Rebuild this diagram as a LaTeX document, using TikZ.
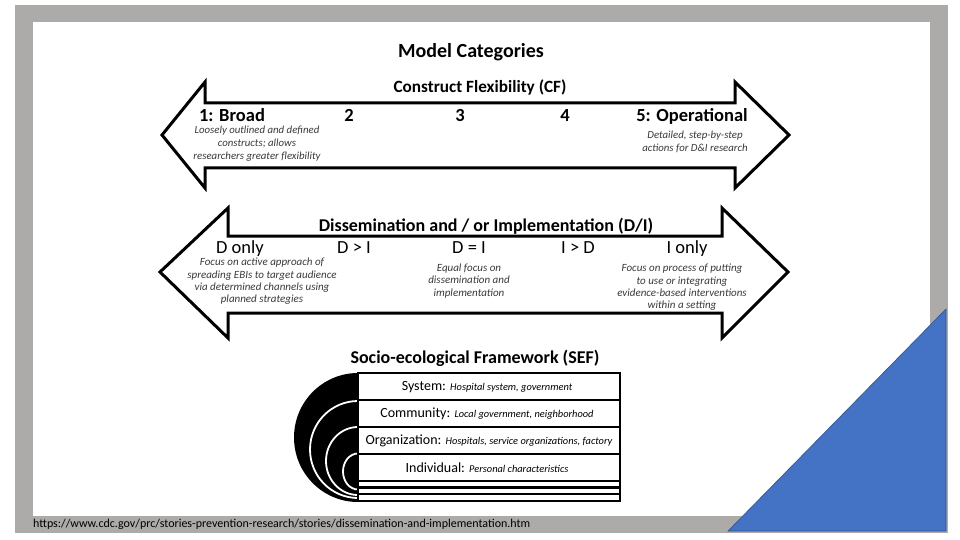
\documentclass[tikz,border=0pt]{standalone}
\usepackage{fontspec}
\setmainfont{Carlito}
\definecolor{framegray}{HTML}{ADABA9}
\definecolor{tribl}{HTML}{4472C4}
\definecolor{tribd}{HTML}{2F528F}
\definecolor{itgray}{HTML}{3A3A3A}
\newcommand\rowitf{\itshape\fontsize{10.4}{12}\selectfont}
\begin{document}
\begin{tikzpicture}[x=1pt,y=-1pt,
  ttl/.style={font=\bfseries\fontsize{20}{22}\selectfont,inner sep=0},
  hdr/.style={font=\bfseries\fontsize{17.2}{19}\selectfont,inner sep=0},
  num/.style={font=\bfseries\fontsize{18.5}{20}\selectfont,inner sep=0,anchor=base},
  lvl/.style={font=\fontsize{18.5}{20}\selectfont,inner sep=0,anchor=base},
  desc/.style={font=\itshape\fontsize{10.8}{13}\selectfont,text=itgray,align=center,inner sep=0},
  desctwo/.style={desc,font=\itshape\fontsize{11}{12.3}\selectfont},
  bigarrow/.style={draw=black,fill=white,line width=3pt,line join=miter},
  rowtxt/.style={font=\fontsize{14}{16}\selectfont,inner sep=0},
  ring/.style={draw=white,line width=1.8pt}]
\useasboundingbox (0,0) rectangle (960,540);
\fill[white] (0,0) rectangle (960,540);
\fill[framegray] (15,5) rectangle (948,533);
\fill[white] (33,22) rectangle (930,516);
\filldraw[fill=tribl,draw=tribd,line width=0.6pt] (728,531) -- (946,309) -- (946,531) -- cycle;

\node[ttl] (mc) at (471,52) {Model Categories};

% CF arrow
\draw[bigarrow] (162,135) -- (205,82) -- (205,103) -- (735,103) -- (735,82) -- (789,135)
  -- (735,188) -- (735,168) -- (205,168) -- (205,188) -- cycle;
\node[hdr] (cf) at (480,87) {Construct Flexibility (CF)};
\node[num] (c1) at (232,122) {1: Broad};
\node[num] (c2) at (349,122) {2};
\node[num] (c3) at (460,122) {3};
\node[num] (c4) at (565,122) {4};
\node[num] (c5) at (692,122) {5: Operational};
\node[desc] (d1) at (257,144) {Loosely outlined and defined\\constructs; allows\\researchers greater flexibility};
\node[desc] (d5) at (695,142) {Detailed, step-by-step\\actions for D\&I research};

% DI arrow
\draw[bigarrow] (160,272) -- (228,208) -- (228,236) -- (722,236) -- (722,208) -- (788,272)
  -- (722,338) -- (722,313) -- (228,313) -- (228,338) -- cycle;
\node[hdr,font=\bfseries\fontsize{18}{20}\selectfont] (di) at (486,226) {Dissemination and / or Implementation (D/I)};
\node[lvl] (l1) at (240,253.5) {D only};
\node[lvl] (l2) at (354,253.5) {D > I};
\node[lvl] (l3) at (469,253.5) {D = I};
\node[lvl] (l4) at (578,253.5) {I > D};
\node[lvl] (l5) at (687,253.5) {I only};
\node[desctwo] (e1) at (262,281.5) {Focus on active approach of\\spreading EBIs to target audience\\via determined channels using\\planned strategies};
\node[desctwo] (e3) at (469,281) {Equal focus on\\dissemination and\\implementation};
\node[desctwo] (e5) at (682,287.5) {Focus on process of putting\\to use or integrating\\evidence-based interventions\\within a setting};

% SEF
\node[ttl,font=\bfseries\fontsize{18}{20}\selectfont] (sef) at (475,358) {Socio-ecological Framework (SEF)};
\fill[black] (358,437.5) ellipse [x radius=64, y radius=64.5];
\draw[ring] (358,449.5) ellipse [x radius=48, y radius=48.5];
\draw[ring] (358,461) ellipse [x radius=32, y radius=34];
\draw[ring] (358,471.5) ellipse [x radius=15, y radius=18];
\filldraw[fill=white,draw=black,line width=2pt] (358,373) rectangle (620,501);
\foreach \yy in {400,427,454,481,487.5,494}
  \draw[black,line width=2.5pt] (358,\yy) -- (620,\yy);
\node[rowtxt] (r1) at (487,387) {System: {\rowitf Hospital system, government}};
\node[rowtxt] (r2) at (487,414) {Community: {\rowitf Local government, neighborhood}};
\node[rowtxt] (r3) at (489,440.5) {Organization: {\rowitf Hospitals, service organizations, factory}};
\node[rowtxt] (r4) at (487,467.5) {Individual: {\rowitf Personal characteristics}};

\node[anchor=west,inner sep=0,font=\fontsize{12}{14}\selectfont] (url) at (33,524)
  {https://www.cdc.gov/prc/stories-prevention-research/stories/dissemination-and-implementation.htm};
\end{tikzpicture}
\end{document}
